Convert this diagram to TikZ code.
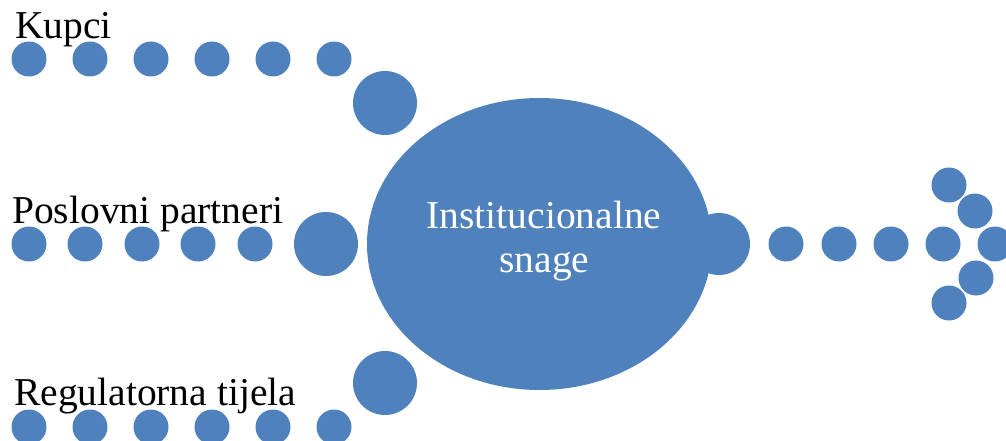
\documentclass[tikz,border=0pt]{standalone}
\usepackage{fontspec}
\setmainfont{Liberation Serif}
\usetikzlibrary{shapes.geometric}
\definecolor{dotblue}{RGB}{79,129,189}
\tikzset{
  smalldot/.style={circle,fill=dotblue,draw=none,minimum size=35pt,inner sep=0pt},
  bigdot/.style={circle,fill=dotblue,draw=none,minimum size=64pt,inner sep=0pt},
  lbl/.style={anchor=base west,inner sep=0pt,font=\fontsize{39.5}{44}\selectfont,text=black},
  corelbl/.style={anchor=base,inner sep=0pt,font=\fontsize{39.5}{44}\selectfont,text=white},
  core/.style={ellipse,fill=dotblue,draw=none,minimum width=345pt,minimum height=292pt,inner sep=0pt}
}
\begin{document}
\begin{tikzpicture}[x=1pt,y=-1pt]
\useasboundingbox (0,0) rectangle (1006,441);
% top row
\foreach \x [count=\i] in {29,90,151,212,273,334} \node[smalldot] (t\i) at (\x,59) {};
\node[bigdot] (tb) at (385,103) {};
% middle row
\foreach \x [count=\i] in {29,85,142,198,255} \node[smalldot] (m\i) at (\x,244) {};
\node[bigdot] (mb) at (326,244) {};
% bottom row
\foreach \x [count=\i] in {29,90,151,212,273,334} \node[smalldot] (b\i) at (\x,427) {};
\node[bigdot] (bb) at (385,383) {};
% core
\node[core] (c) at (539.5,244) {};
\node[corelbl] (c1) at (544,228) {Institucionalne};
\node[corelbl] (c2) at (544.5,272) {snage};
% right
\node[bigdot,minimum size=62pt] (rb) at (719,244) {};
\foreach \x [count=\i] in {786,839,891,943,995} \node[smalldot] (r\i) at (\x,244) {};
\node[smalldot] (a1) at (949,185) {};
\node[smalldot] (a2) at (975,211) {};
\node[smalldot] (a4) at (976,278) {};
\node[smalldot] (a5) at (949,303) {};
% labels
\node[lbl] (lk) at (15,39) {Kupci};
\node[lbl] (lp) at (12,223) {Poslovni partneri};
\node[lbl] (lr) at (14,405) {Regulatorna tijela};
\end{tikzpicture}
\end{document}
